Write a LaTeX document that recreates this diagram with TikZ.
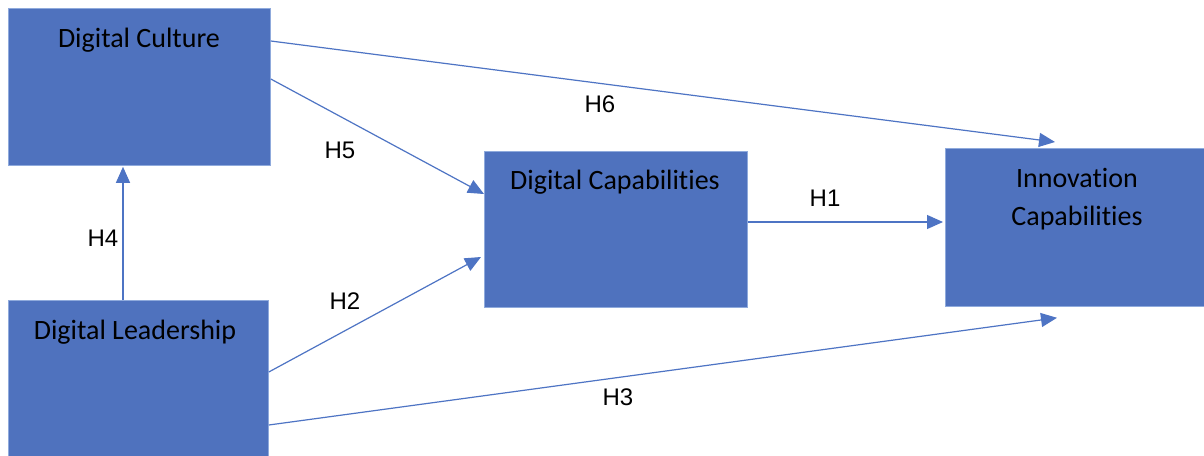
\documentclass[tikz,border=0pt]{standalone}
\usepackage{fontspec}
\setmainfont{Carlito}[Ligatures=NoCommon]
\newfontfamily\labfont{Liberation Sans}
\usetikzlibrary{arrows.meta,calc}
\definecolor{boxfill}{RGB}{79,114,190}
\definecolor{boxline}{RGB}{143,170,220}
\definecolor{arrowc}{RGB}{78,116,196}
\begin{document}
\begin{tikzpicture}[x=1pt,y=-1pt,
  box/.style={draw=boxline,line width=0.8pt,fill=boxfill,inner sep=0pt,anchor=north west},
  boxtext/.style={font=\fontsize{28}{38}\selectfont,text=black,align=center,anchor=base,inner sep=0pt},
  conn/.style={draw=arrowc,line width=1.2pt,-{Triangle[length=16pt,width=14pt]}},
  hlab/.style={font=\labfont\fontsize{24}{28}\selectfont,text=black,inner sep=0pt}]
\useasboundingbox (0,0) rectangle (1204,455);
\fill[white] (0,0) rectangle (1204,455);
\node[box,minimum width=262pt,minimum height=157pt] (dc) at (8,8) {};
\node[box,minimum width=260pt,minimum height=165pt] (dl) at (8,300) {};
\node[box,minimum width=263pt,minimum height=156pt] (dcap) at (484,151) {};
\node[box,minimum width=265pt,minimum height=158pt] (ic) at (945,148) {};
\node[boxtext] (dct) at (139,47) {Digital Culture};
\node[boxtext] (dlt) at (135,339) {Digital Leadership};
\node[boxtext] (dcapt) at (615,189) {Digital Capabilities};
\node[boxtext] (ict) at (1077,225) {Innovation\\Capabilities};
\coordinate (h6s) at ($(dc.north east)+(0,33)$);
\coordinate (h6e) at ($(ic.north west)+(110,-6)$);
\coordinate (h5s) at ($(dc.north east)+(0,71)$);
\coordinate (h5e) at ($(dcap.north west)+(0,43)$);
\coordinate (h2s) at ($(dl.north east)+(0,72)$);
\coordinate (h2e) at ($(dcap.north west)+(-3,106)$);
\coordinate (h3s) at ($(dl.north east)+(0,125)$);
\coordinate (h3e) at ($(ic.south west)+(112,11)$);
\coordinate (h1s) at ($(dcap.north east)+(0,71)$);
\coordinate (h1e) at ($(ic.north west)+(-2,74)$);
\coordinate (h4s) at ($(dl.north west)+(115,0)$);
\coordinate (h4e) at ($(dc.south west)+(115,1)$);
\draw[conn] (h6s) -- (h6e);
\draw[conn] (h5s) -- (h5e);
\draw[conn] (h2s) -- (h2e);
\draw[conn] (h3s) -- (h3e);
\draw[conn] (h1s) -- (h1e);
\draw[conn] (h4s) -- (h4e);
\node[hlab] (l6) at (600,104) {H6};
\node[hlab] (l5) at (340,150) {H5};
\node[hlab] (l2) at (345,301) {H2};
\node[hlab] (l3) at (618,397) {H3};
\node[hlab] (l1) at (825,198) {H1};
\node[hlab] (l4) at (103,238) {H4};
\end{tikzpicture}
\end{document}
